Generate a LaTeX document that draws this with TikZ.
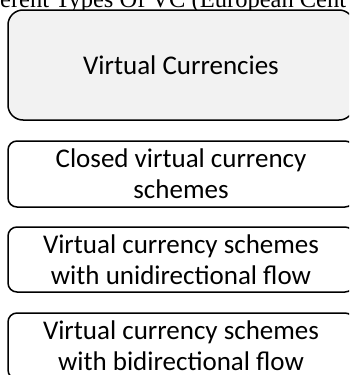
\documentclass[tikz,border=0pt]{standalone}
\usepackage{fontspec}
\setmainfont{Carlito}
\newfontfamily\captionfont{Liberation Serif}
\begin{document}
\begin{tikzpicture}[x=1pt,y=-1pt,
    vcbox/.style={draw, line width=1.5pt, rounded corners=9pt, align=center,
      inner sep=0pt, minimum width=346pt, font=\fontsize{27}{31}\selectfont},
  ]
  \useasboundingbox (0,0) rectangle (349,375);
  \clip (0,0) rectangle (349,375);
  \node[anchor=base west, inner sep=0pt, font=\captionfont\fontsize{24.5}{28}\selectfont]
    (title) at (0,7) {erent Types Of VC (European Cent};
  \node[vcbox, rounded corners=15pt, fill=black!5, minimum height=110pt]
    (vc) at (181,65) {Virtual Currencies};
  \node[vcbox, minimum height=66pt] (closed) at (181,174)
    {Closed virtual currency\\schemes};
  \node[vcbox, minimum height=65pt] (uni) at (181,259.5)
    {Virtual currency schemes\\with unidirectional flow};
  \node[vcbox, minimum height=66pt] (bi) at (181,346)
    {Virtual currency schemes\\with bidirectional flow};
\end{tikzpicture}
\end{document}
